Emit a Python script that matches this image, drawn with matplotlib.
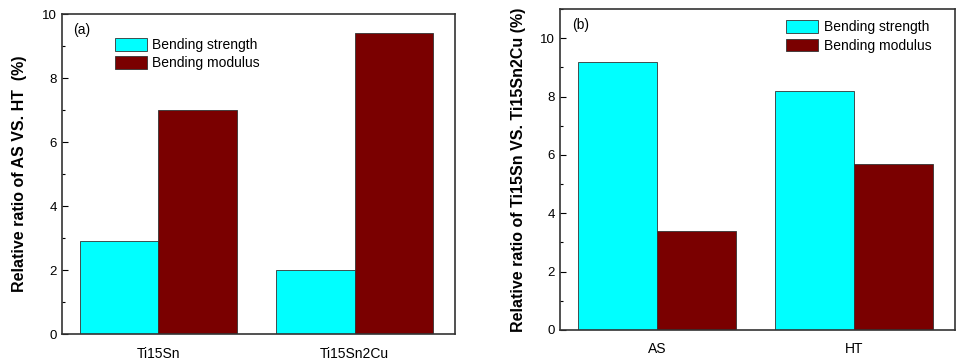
import matplotlib.pyplot as plt
import numpy as np
from matplotlib.ticker import MultipleLocator

plt.rcParams['font.family'] = ['Liberation Sans', 'DejaVu Sans']

# panel (a)
alloys = ['Ti15Sn', 'Ti15Sn2Cu']
strength_a = [2.9, 2.0]
modulus_a = [7.0, 9.4]

# panel (b)
states = ['AS', 'HT']
strength_b = [9.2, 8.2]
modulus_b = [3.4, 5.7]

series_labels = ['Bending strength', 'Bending modulus']
cyan = '#00ffff'
dark_red = '#7a0000'

fig = plt.figure(figsize=(9.57, 3.62), dpi=100)
ax1 = fig.add_axes([0.0648, 0.0773, 0.4106, 0.884])
ax2 = fig.add_axes([0.5852, 0.0884, 0.4127, 0.8867])


def draw_panel(ax, cats, s, m, ymax, ylabel, tag, tag_xy, legend_loc, legend_anchor):
    x = np.arange(len(cats))
    w = 0.4
    ax.bar(x - w / 2, s, w, color=cyan, edgecolor='#333333', linewidth=0.6,
           label=series_labels[0])
    ax.bar(x + w / 2, m, w, color=dark_red, edgecolor='#333333', linewidth=0.6,
           label=series_labels[1])
    ax.set_xlim(-0.49, 1.51)
    ax.set_ylim(0, ymax)
    ax.set_xticks(x)
    ax.set_xticklabels(cats, fontsize=10)
    ax.tick_params(axis='x', length=0, pad=9)
    ax.yaxis.set_major_locator(MultipleLocator(2))
    ax.yaxis.set_minor_locator(MultipleLocator(1))
    ax.tick_params(axis='y', which='major', direction='in', length=4,
                   labelsize=9.5, width=0.8)
    ax.tick_params(axis='y', which='minor', direction='in', length=2, width=0.8)
    ax.set_ylabel(ylabel, fontsize=11.5, fontweight='bold')
    for sp in ax.spines.values():
        sp.set_linewidth(1.2)
        sp.set_color('#333333')
    ax.text(tag_xy[0], tag_xy[1], tag, transform=ax.transAxes, fontsize=10,
            va='center')
    ax.legend(loc=legend_loc, bbox_to_anchor=legend_anchor, frameon=False,
              fontsize=10, handlelength=2.3, handleheight=1.0,
              labelspacing=0.3, handletextpad=0.4, borderaxespad=0.3)


draw_panel(ax1, alloys, strength_a, modulus_a, 10,
           'Relative ratio of AS VS. HT  (%)', '(a)', (0.028, 0.95),
           'upper left', (0.11, 0.955))
ax1.yaxis.labelpad = 11
draw_panel(ax2, states, strength_b, modulus_b, 11,
           'Relative ratio of Ti15Sn VS. Ti15Sn2Cu (%)', '(b)', (0.03, 0.95),
           'upper right', (0.965, 0.995))
ax2.yaxis.labelpad = 10

fig.savefig('out.png', dpi=100)
